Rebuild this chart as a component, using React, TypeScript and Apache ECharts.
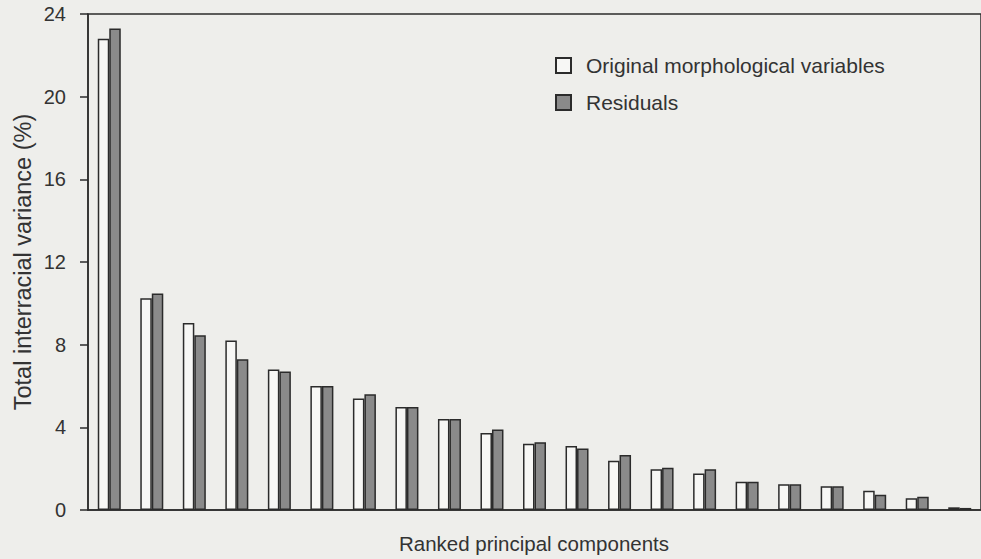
import React, { useEffect, useRef } from "react";
import * as echarts from "echarts";

const categories = ["1","2","3","4","5","6","7","8","9","10","11","12","13","14","15","16","17","18","19","20","21"];
const originalValues = [22.8, 10.25, 9.05, 8.2, 6.8, 6.0, 5.4, 4.98, 4.4, 3.72, 3.2, 3.1, 2.38, 1.97, 1.77, 1.37, 1.24, 1.15, 0.93, 0.57, 0.13];
const residualValues = [23.3, 10.48, 8.45, 7.3, 6.7, 6.0, 5.6, 4.98, 4.4, 3.9, 3.28, 2.98, 2.66, 2.05, 1.97, 1.37, 1.24, 1.15, 0.74, 0.64, 0.1];
const seriesNames = ["Original morphological variables", "Residuals"];
const yTitle = "Total interracial variance (%)";
const xTitle = "Ranked principal components";

export default function App() {
  const ref = useRef<HTMLDivElement>(null);
  useEffect(() => {
    document.body.style.margin = "0";
    if (!ref.current) return;
    const chart = echarts.init(ref.current, null, { renderer: "svg" });
    const font = "Liberation Sans, Arial, sans-serif";
    const ink = "#2b2b2b";
    chart.setOption({
      animation: false,
      backgroundColor: "#eeeeeb",
      grid: {
        left: 88,
        top: 14,
        width: 903,
        height: 496,
        show: true,
        borderColor: ink,
        borderWidth: 1.5,
        backgroundColor: "transparent",
      },
      legend: {
        orient: "vertical",
        left: 555,
        top: 55,
        padding: 0,
        itemWidth: 15,
        itemHeight: 15,
        itemGap: 16,
        icon: "rect",
        selectedMode: false,
        textStyle: { fontFamily: font, fontSize: 21, color: "#333", padding: [0, 0, 0, 10] },
        data: seriesNames,
      },
      xAxis: {
        type: "category",
        data: categories,
        axisLine: { show: true, lineStyle: { color: ink, width: 1.5 } },
        axisTick: { show: false },
        axisLabel: { show: false },
      },
      yAxis: {
        type: "value",
        min: 0,
        max: 24,
        interval: 4,
        splitLine: { show: false },
        axisLine: { show: true, lineStyle: { color: ink, width: 1.5 } },
        axisTick: { show: true, inside: false, length: 8, lineStyle: { color: ink, width: 1.5 } },
        axisLabel: { fontFamily: font, fontSize: 20, color: "#333", margin: 22 },
      },
      graphic: [
        {
          type: "text",
          x: 23,
          y: 262,
          rotation: Math.PI / 2,
          style: { text: yTitle, fontFamily: font, fontSize: 23.5, fill: "#333", align: "center", verticalAlign: "middle" },
        },
        {
          type: "text",
          x: 534,
          y: 543,
          style: { text: xTitle, fontFamily: font, fontSize: 20.5, fill: "#333", align: "center", verticalAlign: "middle" },
        },
      ],
      series: [
        {
          name: seriesNames[0],
          type: "bar",
          data: originalValues,
          barWidth: 11.5,
          barGap: "0%",
          itemStyle: { color: "#f7f7f5", borderColor: ink, borderWidth: 1.5 },
        },
        {
          name: seriesNames[1],
          type: "bar",
          data: residualValues,
          barWidth: 11.5,
          barGap: "0%",
          itemStyle: { color: "#8a8a8a", borderColor: ink, borderWidth: 1.5 },
        },
      ],
    });
    return () => chart.dispose();
  }, []);
  return <div ref={ref} style={{ width: 981, height: 559 }} />;
}
